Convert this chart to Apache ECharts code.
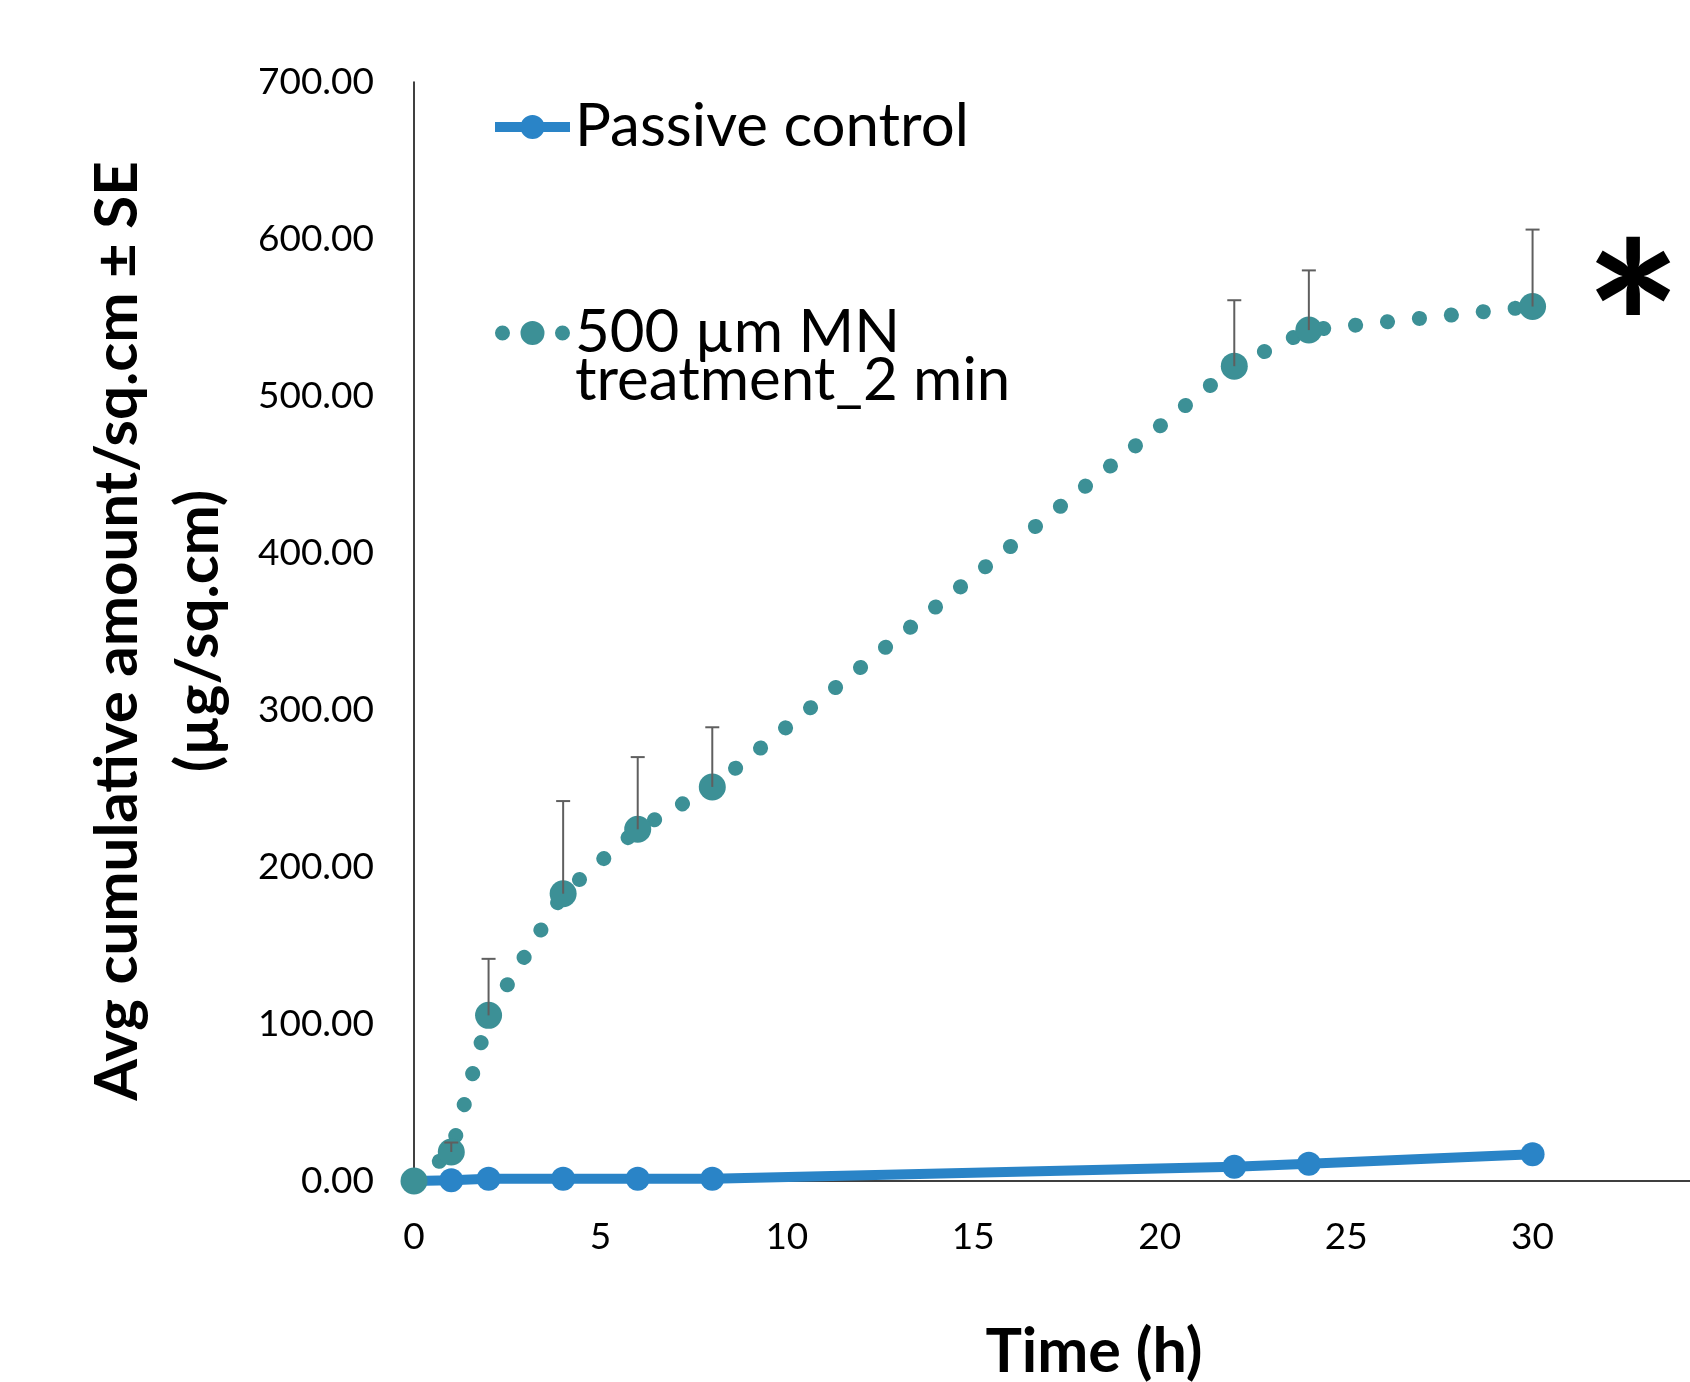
<!DOCTYPE html>
<html>
<head>
<meta charset="utf-8">
<script src="https://cdn.jsdelivr.net/npm/echarts@6/dist/echarts.min.js"></script>
<style>html,body{margin:0;padding:0;background:#fff;}#chart{width:1690px;height:1382px;}</style>
</head>
<body>
<div id="chart"></div>
<script>
// Data
const timeHours = [0, 1, 2, 4, 6, 8, 22, 24, 30];
const passiveControl = [0, 0.5, 1.4, 1.4, 1.4, 1.4, 9, 11, 17];
const treatmentMN = [0, 18.5, 105.5, 183, 224, 251, 519, 542, 557];
const treatmentSE = [0, 6, 36, 59, 46, 38, 42, 38, 49];
const yTicks = [0, 100, 200, 300, 400, 500, 600, 700];
const xTicks = [0, 5, 10, 15, 20, 25, 30];
const seriesNames = ['Passive control', '500 µm MN\ntreatment_2 min'];

const FONT = 'Lato, "Noto Sans", sans-serif';
const BLUE = '#2A84C7';
const TEAL = '#3C9096';

function circ(cx, cy, r) {
  return 'M' + (cx - r) + ',' + cy + ' a' + r + ',' + r + ' 0 1,1 ' + (2 * r) + ',0 a' + r + ',' + r + ' 0 1,1 ' + (-2 * r) + ',0 Z ';
}
const iconPassive = 'path://M0,7 L75,7 L75,17 L0,17 Z ' + circ(37.5, 12, 12);
const iconMN = 'path://' + circ(7.5, 12, 7.5) + circ(37.5, 12, 12) + circ(67.5, 12, 7.5);

const chart = echarts.init(document.getElementById('chart'));
const passiveData = timeHours.map((t, i) => [t, passiveControl[i]]);
const mnData = timeHours.map((t, i) => [t, treatmentMN[i]]);
const errData = timeHours.map((t, i) => [t, treatmentMN[i], treatmentSE[i]]);

chart.setOption({
  backgroundColor: '#fff',
  animation: false,
  grid: { left: 414, top: 82, height: 1099, width: 1305, containLabel: false, outerBoundsMode: 'none' },
  xAxis: {
    type: 'value', min: 0, max: 35, interval: 5,
    axisLine: { show: true, lineStyle: { color: '#000', width: 1.5 } },
    axisTick: { show: false }, splitLine: { show: false },
    axisLabel: { color: '#000', fontFamily: FONT, fontSize: 37, margin: 38,
      formatter: v => xTicks.indexOf(v) >= 0 ? String(v) : '' }
  },
  yAxis: {
    type: 'value', min: 0, max: 700, interval: 100,
    axisLine: { show: true, lineStyle: { color: '#000', width: 1.5 } },
    axisTick: { show: false }, splitLine: { show: false },
    axisLabel: { color: '#000', fontFamily: FONT, fontSize: 37, margin: 40,
      formatter: v => yTicks.indexOf(v) >= 0 ? v.toFixed(2) : '' }
  },
  legend: [
    { data: [{ name: seriesNames[0], icon: iconPassive }], left: 490, top: 92, orient: 'vertical',
      itemWidth: 75, itemHeight: 24, itemGap: 0,
      textStyle: { color: '#000', fontFamily: FONT, fontSize: 60, lineHeight: 60 } },
    { data: [{ name: seriesNames[1], icon: iconMN }], left: 490, top: 250, orient: 'vertical',
      itemWidth: 75, itemHeight: 24, itemGap: 0,
      formatter: n => ' \n' + n,
      textStyle: { color: '#000', fontFamily: FONT, fontSize: 60, lineHeight: 48 } }
  ],
  graphic: [
    { type: 'text', x: 118, y: 631, rotation: Math.PI / 2,
      style: { text: 'Avg cumulative amount/sq.cm ± SE', fill: '#000', font: 'bold 60px ' + FONT,
        align: 'center', verticalAlign: 'middle' } },
    { type: 'text', x: 199, y: 631, rotation: Math.PI / 2,
      style: { text: '(µg/sq.cm)', fill: '#000', font: 'bold 60px ' + FONT,
        align: 'center', verticalAlign: 'middle' } },
    { type: 'text', x: 1094, y: 1352,
      style: { text: 'Time (h)', fill: '#000', font: 'bold 61px ' + FONT,
        align: 'center', verticalAlign: 'middle' } },
    { type: 'text', x: 1633, y: 337,
      style: { text: '*', fill: '#000', font: 'bold 230px ' + FONT,
        align: 'center', verticalAlign: 'middle' } }
  ],
  series: [
    { name: seriesNames[0], type: 'line', data: passiveData, z: 2,
      symbol: 'circle', symbolSize: 24, showSymbol: true,
      lineStyle: { color: BLUE, width: 10 }, itemStyle: { color: BLUE } },
    { name: seriesNames[1], type: 'line', data: mnData, z: 3,
      symbol: 'circle', symbolSize: 27, showSymbol: true,
      lineStyle: { color: TEAL, width: 15, type: [0.1, 32], cap: 'round' },
      itemStyle: { color: TEAL } },
    { name: 'SE', type: 'custom', data: errData, z: 4, silent: true,
      renderItem: function (params, api) {
        const x = api.value(0), y = api.value(1), e = api.value(2);
        if (!e) return null;
        const p0 = api.coord([x, y]);
        const p1 = api.coord([x, y + e]);
        const st = { stroke: '#5f5f5f', lineWidth: 2 };
        return { type: 'group', children: [
          { type: 'line', shape: { x1: p0[0], y1: p0[1], x2: p1[0], y2: p1[1] }, style: st },
          { type: 'line', shape: { x1: p1[0] - 7, y1: p1[1], x2: p1[0] + 7, y2: p1[1] }, style: st }
        ] };
      } }
  ]
});
</script>
</body>
</html>
